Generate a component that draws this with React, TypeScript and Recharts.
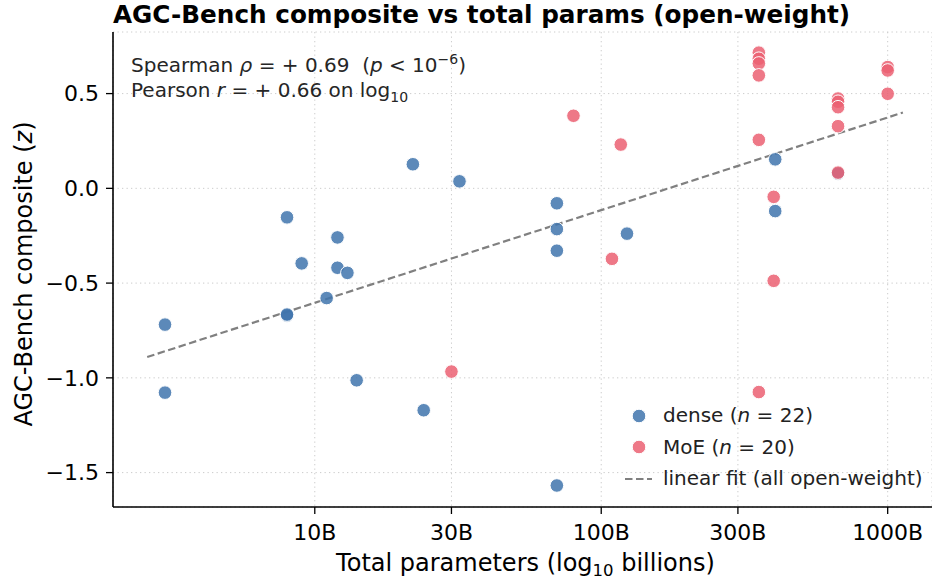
import React from 'react';
import { ScatterChart, Scatter, XAxis, YAxis, CartesianGrid, Legend } from 'recharts';

// dense models: total params (B) and composite z-score
const denseParams = [3, 3, 8, 8, 8, 9, 11, 12, 12, 13, 14, 22, 24, 32, 70, 70, 70, 70, 123, 405, 405, 671];
const denseScores = [-0.719, -1.078, -0.153, -0.671, -0.666, -0.396, -0.579, -0.259, -0.419, -0.446, -1.013, 0.127, -1.171, 0.037, -0.079, -0.215, -0.329, -1.568, -0.239, 0.153, -0.12, 0.078];

// MoE models
const moeParams = [30, 80, 109, 117, 355, 355, 355, 355, 355, 355, 400, 400, 671, 671, 671, 671, 671, 1000, 1000, 1000];
const moeScores = [-0.967, 0.383, -0.372, 0.231, 0.716, 0.684, 0.659, 0.596, 0.256, -1.075, -0.045, -0.488, 0.474, 0.457, 0.428, 0.328, 0.083, 0.64, 0.622, 0.499];

// linear fit endpoints (on log10 x)
const fitParams = [2.6, 1130];
const fitScores = [-0.89, 0.4];

const xTicks = [10, 30, 100, 300, 1000];
const yTicks = [-1.5, -1.0, -0.5, 0.0, 0.5];

const BLUE = '#3F74AD';
const RED = '#EB6072';
const FONT = '"DejaVu Sans", sans-serif';

const denseData = denseParams.map((p, i) => ({ x: p, y: denseScores[i] }));
const moeData = moeParams.map((p, i) => ({ x: p, y: moeScores[i] }));
const fitData = fitParams.map((p, i) => ({ x: p, y: fitScores[i] }));

const dot = (color: string) => (props: any) => (
  <circle
    cx={props.cx}
    cy={props.cy}
    r={6.8}
    fill={color}
    fillOpacity={0.85}
    stroke="#ffffff"
    strokeWidth={1}
  />
);

const fmtY = (v: number) => (v < 0 ? '\u2212' : '') + Math.abs(v).toFixed(1);

const renderLegend = () => (
  <div style={{ fontFamily: FONT, fontSize: 20, color: '#222', lineHeight: '31.5px' }}>
    {[
      { kind: 'dot', color: BLUE, label: <>dense (<i>n</i> = 22)</> },
      { kind: 'dot', color: RED, label: <>MoE (<i>n</i> = 20)</> },
      { kind: 'line', color: '#808080', label: <>linear fit (all open-weight)</> },
    ].map((row, i) => (
      <div key={i} style={{ display: 'flex', alignItems: 'center', height: 31.5 }}>
        <svg width={40} height={20} style={{ marginRight: 3 }}>
          {row.kind === 'dot' ? (
            <circle cx={19} cy={10} r={6.8} fill={row.color} fillOpacity={0.85} stroke="#fff" />
          ) : (
            <line x1={5} x2={32} y1={10} y2={10} stroke={row.color} strokeWidth={2.2} strokeDasharray="7.5 3.5" />
          )}
        </svg>
        <span style={{ whiteSpace: 'nowrap' }}>{row.label}</span>
      </div>
    ))}
  </div>
);

const yLabel = (props: any) => {
  const cx = 24;
  const cy = 274;
  return (
    <text
      x={cx}
      y={cy}
      transform={`rotate(-90 ${cx} ${cy})`}
      textAnchor="middle"
      dominantBaseline="central"
      fontFamily={FONT}
      fontSize={24}
      fill="#000"
    >
      AGC-Bench composite (<tspan fontStyle="italic">z</tspan>)
    </text>
  );
};

const xLabel = (props: any) => {
  const vb = props.viewBox || { x: 113, y: 507, width: 819, height: 75 };
  return (
    <text x={vb.x + vb.width / 2 + 3} y={571} textAnchor="middle" fontFamily={FONT} fontSize={24} fill="#000">
      Total parameters (log<tspan fontSize={16.5} dy={5}>10</tspan>
      <tspan dy={-5}>  billions)</tspan>
    </text>
  );
};

export default function App() {
  return (
    <div style={{ position: 'absolute', left: 0, top: 0, width: 932, height: 582, background: '#fff' }}>
      <div
        style={{
          position: 'absolute',
          left: 113,
          top: 0,
          fontFamily: FONT,
          fontWeight: 'bold',
          fontSize: 24.7,
          lineHeight: '30px',
          color: '#000',
          whiteSpace: 'nowrap',
        }}
      >
        AGC-Bench composite vs total params (open-weight)
      </div>
      <div
        style={{
          position: 'absolute',
          left: 131,
          top: 53,
          fontFamily: FONT,
          fontSize: 20,
          lineHeight: '25px',
          color: '#262626',
          whiteSpace: 'pre',
          zIndex: 2,
        }}
      >
        <div>
          Spearman <i>ρ</i> = + 0.69  (<i>p</i> &lt; 10<sup style={{ fontSize: 14, lineHeight: 0 }}>−6</sup>)
        </div>
        <div>
          Pearson <i>r</i> = + 0.66 on log<sub style={{ fontSize: 14, lineHeight: 0 }}>10</sub>
        </div>
      </div>
      <ScatterChart width={932} height={582} margin={{ top: 32, right: 0, bottom: 0, left: 0 }}>
        <CartesianGrid stroke="#cccccc" strokeDasharray="1.3 3.2" strokeWidth={1} />
        <XAxis
          dataKey="x"
          type="number"
          scale="log"
          domain={[1.975, 1428]}
          allowDataOverflow
          ticks={xTicks}
          tickFormatter={(v: number) => `${v}B`}
          tick={{ fontSize: 22, fill: '#000', fontFamily: FONT }}
          tickSize={7}
          tickMargin={10}
          tickLine={{ stroke: '#000', strokeWidth: 1.3 }}
          axisLine={{ stroke: '#000', strokeWidth: 1.6 }}
          height={75}
          label={xLabel}
        />
        <YAxis
          dataKey="y"
          type="number"
          domain={[-1.6815, 0.825]}
          allowDataOverflow
          ticks={yTicks}
          tickFormatter={fmtY}
          tick={{ fontSize: 22, fill: '#000', fontFamily: FONT }}
          tickSize={7}
          tickMargin={7}
          tickLine={{ stroke: '#000', strokeWidth: 1.3 }}
          axisLine={{ stroke: '#000', strokeWidth: 1.6 }}
          width={113}
          label={yLabel}
        />
        <Legend
          layout="horizontal"
          verticalAlign="middle"
          align="center"
          content={renderLegend}
          wrapperStyle={{ position: 'absolute', left: 620, top: 400, width: 310 }}
        />
        <Scatter
          name="fit"
          data={fitData}
          line={{ stroke: '#808080', strokeWidth: 2.2, strokeDasharray: '7.5 3.5' }}
          shape={() => <g />}
          isAnimationActive={false}
        />
        <Scatter name="dense" data={denseData} shape={dot(BLUE)} isAnimationActive={false} />
        <Scatter name="MoE" data={moeData} shape={dot(RED)} isAnimationActive={false} />
      </ScatterChart>
    </div>
  );
}
